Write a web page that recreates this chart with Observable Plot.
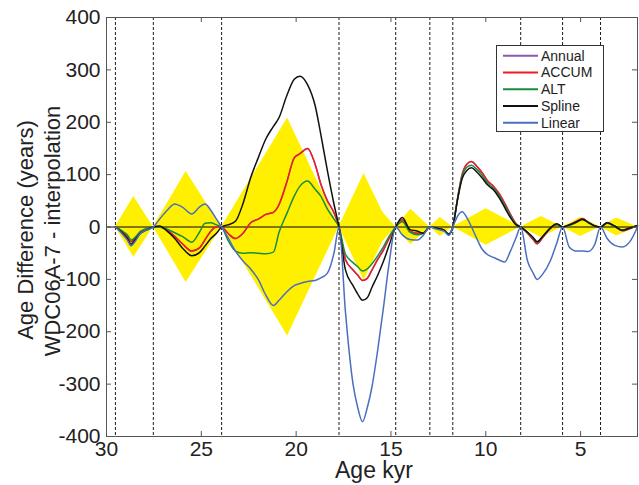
<!DOCTYPE html>
<html>
<head>
<meta charset="utf-8">
<script src="https://cdn.jsdelivr.net/npm/d3@7"></script>
<script src="https://cdn.jsdelivr.net/npm/@observablehq/plot@0.6"></script>
<style>
  html, body { margin: 0; padding: 0; background: white; }
  #wrap { position: relative; width: 639px; height: 485px; }
  #legend { position: absolute; left: 496px; top: 45px; }
</style>
</head>
<body>
<div id="wrap"></div>
<script>
// ---- data ----
const xTicks = [30, 25, 20, 15, 10, 5];
const yTicks = [-400, -300, -200, -100, 0, 100, 200, 300, 400];
const tiePoints = [29.53, 27.53, 23.93, 17.74, 14.75, 12.95, 11.74, 8.16, 5.95, 3.95];

const envAge = [29.53, 28.56, 27.53, 25.8, 23.93, 20.45, 17.74, 16.42, 15.43, 14.75, 13.95, 12.95, 12.4, 11.74, 9.98, 8.16, 7.07, 5.95, 5.0, 3.95, 3.1, 2.0];
const envVal = [0, 58, 0, 106, 0, 208, 0, 102, 28, 0, 34, 0, 18, 0, 35, 0, 20, 0, 18, 0, 17, 0];

const ages = [
  29.53, 29.2, 28.9, 28.7, 28.5, 28.2, 27.9,
  27.53, 27.2, 26.8, 26.4, 26.0, 25.5, 25.1, 24.8, 24.5, 24.2,
  23.93, 23.6, 23.2, 22.8, 22.4, 22.0, 21.6, 21.2, 20.9, 20.5, 20.1, 19.8, 19.4, 19.0, 18.7, 18.35, 18.0,
  17.74, 17.4, 17.0, 16.75, 16.5, 16.25, 16.0, 15.7, 15.4, 15.1,
  14.75, 14.4, 14.0, 13.6, 13.3,
  12.95, 12.6, 12.2, 11.95,
  11.74, 11.5, 11.25, 11.0, 10.75, 10.5, 10.2, 9.9, 9.6, 9.3, 9.0, 8.7, 8.4,
  8.16, 7.8, 7.5, 7.3, 7.0, 6.6, 6.25,
  5.95, 5.6, 5.2, 4.9, 4.6, 4.25,
  3.95, 3.6, 3.2, 2.8, 2.4, 2.0
];

const accum = [
  0, -8, -18, -28, -22, -10, -5,
  0, 0, -6, -18, -32, -46, -40, -24, -8, 0,
  0, -12, -22, -12, 8, 15, 24, 28, 43, 85, 132, 140, 150, 120, 82, 50, 27,
  0, -62, -82, -92, -102, -98, -82, -62, -44, -22,
  0, 14, -8, -12, -12,
  0, -2, -6, -14,
  0, 52, 100, 120, 125, 117, 104, 88, 78, 64, 45, 24, 6,
  0, -12, -24, -32, -20, -3, 5,
  0, 4, 11, 16, 9, 2,
  0, 8, 1, -7, -3, 3
];
const annual = [
  0, -8, -18, -28, -22, -10, -5,
  0, 0, -6, -18, -32, -46, -40, -24, -8, 0,
  0, -12, -22, -12, 8, 15, 24, 28, 43, 85, 132, 140, 150, 120, 82, 50, 27,
  0, -62, -82, -92, -102, -98, -82, -62, -44, -22,
  0, 14, -8, -12, -12,
  0, -2, -6, -14,
  0, 52, 100, 120, 125, 117, 104, 88, 78, 64, 45, 24, 6,
  0, -12, -24, -32, -20, -3, 5,
  0, 4, 11, 16, 9, 2,
  0, 8, 1, -7, -3, 3
];
const alt = [
  0, -7, -15, -25, -20, -8, -3,
  0, 0, -4, -11, -18, -29, -10, 7, 8, 4,
  0, -25, -46, -50, -49, -50, -51, -48, -10, 25, 59, 78, 88, 72, 59, 34, 15,
  0, -52, -68, -76, -84, -80, -70, -55, -38, -18,
  0, 10, -10, -15, -12,
  0, -2, -6, -13,
  0, 51, 96, 114, 118, 111, 99, 84, 74, 60, 41, 21, 5,
  0, -10, -21, -29, -18, -2, 5,
  0, 3, 9, 14, 8, 2,
  0, 7, 1, -6, -2, 3
];
const spline = [
  0, -10, -22, -33, -25, -12, -6,
  0, 2, -8, -22, -40, -55, -49, -36, -22, -12,
  0, 4, 11, 45, 94, 132, 168, 192, 209, 250, 282, 288, 272, 232, 177, 107, 43,
  0, -82, -112, -128, -140, -135, -115, -92, -66, -35,
  0, 18, -5, -8, -12,
  0, -2, -6, -14,
  0, 50, 92, 108, 113, 106, 94, 80, 71, 56, 37, 18, 4,
  0, -10, -20, -28, -18, -2, 6,
  0, 4, 10, 15, 9, 2,
  0, 8, 2, -6, -2, 3
];
const linear = [
  0, -12, -25, -36, -28, -12, -6,
  0, 15, 32, 44, 38, 25, 38, 44, 32, 15,
  0, -20, -46, -65, -80, -100, -130, -150, -140, -124, -112, -108, -104, -102, -97, -88, -49,
  0, -162, -300, -345, -372, -345, -305, -235, -155, -70,
  0, -15, -24, -25, -16,
  0, -4, -8, -16,
  0, 20, 29, 18, 0, -20, -42, -53, -58, -63, -67, -46, -20,
  0, -65, -88, -100, -90, -65, -30,
  0, -38, -46, -46, -47, -33,
  0, -22, -35, -38, -28, 0
];

const seriesNames = ["Annual", "ACCUM", "ALT", "Spline", "Linear"];
const seriesValues = [annual, accum, alt, spline, linear];
const seriesColors = ["#8a5ab0", "#ee1c25", "#1a8c3c", "#111111", "#4a6fc0"];

// ---- build tables ----
const env = envAge.map((a, i) => ({age: a, v: envVal[i]}));
const rows = [];
seriesNames.forEach((name, s) => {
  ages.forEach((a, i) => rows.push({series: name, age: a, value: seriesValues[s][i]}));
});

const W = 639, H = 485, mL = 106, mR = 2, mT = 17, mB = 49;
const plotH = H - mT - mB, plotW = W - mL - mR;
const font = "'Liberation Sans', Arial, Helvetica, sans-serif";

const chart = Plot.plot({
  width: W, height: H,
  marginLeft: mL, marginRight: mR, marginTop: mT, marginBottom: mB,
  x: {domain: [30, 2]},
  y: {domain: [-400, 400]},
  color: {domain: seriesNames, range: seriesColors},
  style: {fontFamily: font, background: "white", color: "#222"},
  marks: [
    Plot.areaY(env, {x: "age", y1: d => -d.v, y2: "v", fill: "#fff000"}),
    Plot.ruleX(tiePoints, {x: d => d, stroke: "#000", strokeWidth: 0.9, strokeDasharray: "3,2"}),
    Plot.ruleY([0], {y: d => d, stroke: "#000", strokeWidth: 1}),
    Plot.line(rows, {x: "age", y: "value", z: "series", stroke: "series", strokeWidth: 1.5, curve: "monotone-x"}),
    Plot.frame({stroke: "#555", strokeWidth: 1}),
    Plot.tickX(xTicks, {x: d => d, stroke: "#555", insetTop: plotH - 5}),
    Plot.tickX(xTicks, {x: d => d, stroke: "#555", insetBottom: plotH - 5}),
    Plot.tickY(yTicks, {y: d => d, stroke: "#555", insetRight: plotW - 5}),
    Plot.tickY(yTicks, {y: d => d, stroke: "#555", insetLeft: plotW - 5}),
    Plot.axisX(xTicks, {tickSize: 0, tickPadding: 5, fontSize: 21, label: null, tickFormat: d => String(d)}),
    Plot.axisY(yTicks, {tickSize: 0, tickPadding: 6, fontSize: 21, label: null, tickFormat: d => String(d)}),
    Plot.text(["Age Difference (years)"], {text: d => d, frameAnchor: "left", dx: -81, dy: 3, rotate: -90, textAnchor: "middle", lineAnchor: "middle", fontSize: 22, fill: "#222"}),
    Plot.text(["WDC06A-7 - interpolation"], {text: d => d, frameAnchor: "left", dx: -54, dy: 4, rotate: -90, textAnchor: "middle", lineAnchor: "middle", fontSize: 22, fill: "#222"}),
    Plot.text(["Age kyr"], {text: d => d, frameAnchor: "bottom", dx: 2, dy: 25, textAnchor: "middle", lineAnchor: "top", fontSize: 23, fill: "#222"})
  ]
});

const wrap = document.getElementById("wrap");
wrap.appendChild(chart);

// ---- legend (inside axes, top right) ----
const lw = 108, lh = 87;
const leg = d3.create("svg").attr("id", "legend").attr("width", lw).attr("height", lh)
  .style("font-family", font);
leg.append("rect").attr("x", 0.5).attr("y", 0.5).attr("width", lw - 1).attr("height", lh - 1)
  .attr("fill", "white").attr("stroke", "#333").attr("stroke-width", 1);
seriesNames.forEach((name, i) => {
  const cy = 10.7 + i * 16.75;
  leg.append("line").attr("x1", 7).attr("x2", 42).attr("y1", cy).attr("y2", cy)
    .attr("stroke", seriesColors[i]).attr("stroke-width", 2);
  leg.append("text").attr("x", 45).attr("y", cy).attr("dy", "0.36em")
    .attr("font-size", 14).attr("fill", "#222").text(name);
});
wrap.appendChild(leg.node());
</script>
</body>
</html>
